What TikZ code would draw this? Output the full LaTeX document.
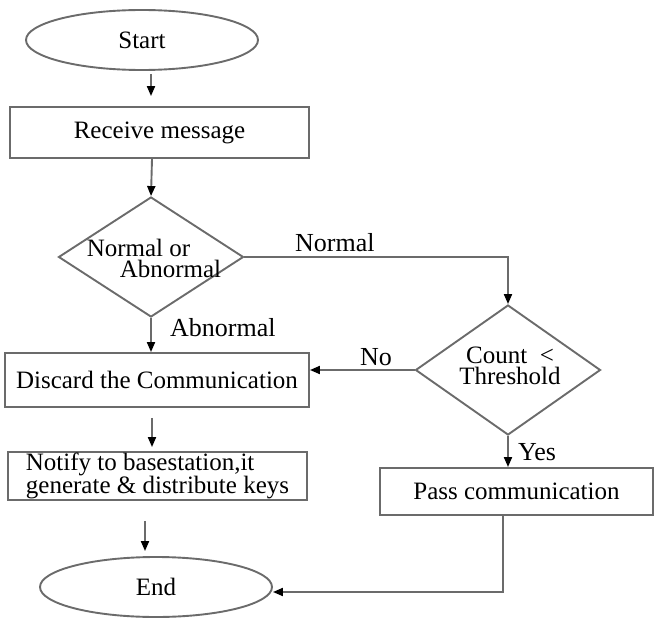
\documentclass[tikz,border=0pt]{standalone}
\usepackage{fontspec}
\setmainfont{Liberation Serif}
\usetikzlibrary{shapes.geometric,arrows.meta}
\begin{document}
\begin{tikzpicture}[x=1pt,y=-1pt,
  ln/.style={draw=black!58, line width=1.9pt},
  arr/.style={ln, -{Triangle[length=10pt,width=8pt,color=black]}},
  txt/.style={font=\fontsize{25}{21}\selectfont, text=black},
  lbl/.style={font=\fontsize{26}{24}\selectfont, text=black, inner sep=0pt},
  boxn/.style={rectangle, ln, txt, inner sep=0pt},
  ovl/.style={ellipse, ln, txt, inner sep=0pt, minimum width=232pt, minimum height=60pt},
  dec/.style={diamond, ln, inner sep=0pt, minimum width=185pt}
]
\useasboundingbox (0,0) rectangle (656,618);
% nodes
\node[ovl] (start) at (142,40) {Start};
\node[boxn, minimum width=299pt, minimum height=51pt] (rec) at (159.5,132.5) {Receive message};
\node[dec, minimum height=120pt] (d1) at (151,257) {};
\node[txt, align=left, inner sep=0pt] (d1t) at (154,258) {Normal or\\\hspace*{33pt}Abnormal};
\node[boxn, minimum width=304pt, minimum height=54pt] (dis) at (157,380) {Discard the Communication};
\node[boxn, minimum width=299pt, minimum height=48pt, align=left] (not) at (157.5,476) {Notify to basestation,it\\generate \& distribute keys};
\node[ovl] (end) at (156,587) {End};
\node[dec, minimum height=130pt] (d2) at (508,370) {};
\node[txt, align=center, inner sep=0pt] (d2t) at (510,366) {Count\ \ <\\Threshold};
\node[boxn, minimum width=273pt, minimum height=47pt] (pass) at (516.5,491.5) {Pass communication};
% helper coordinates
\coordinate (xa) at (151,0);
\coordinate (xb) at (152,0);
\coordinate (xc) at (145,0);
\coordinate (xp) at (503,0);
% connectors
\draw[arr, shorten <=3pt, shorten >=10pt] (start.south -| xa) -- (rec.north -| xa);
\draw[arr] (rec.south -| xb) -- (d1.north);
\draw[arr] (d1.south) -- (dis.north -| d1.south);
\draw[arr] (d1.east) -| (d2.north);
\draw[arr] (d2.west) -- (dis.east |- d2.west);
\draw[arr, shorten <=10pt, shorten >=4pt] (dis.south -| xb) -- (not.north -| xb);
\draw[arr, shorten <=20pt, shorten >=5pt] (not.south -| xc) -- (end.north -| xc);
\draw[arr] (d2.south) -- (pass.north -| d2.south);
\draw[arr] (pass.south -| xp) |- ([yshift=-5pt]end.east);
% labels
\node[lbl, anchor=west] (lab) at (170,328) {Abnormal};
\node[lbl, anchor=west] (lnorm) at (295,243) {Normal};
\node[lbl, anchor=west] (lno) at (360,357) {No};
\node[lbl, anchor=west] (lyes) at (518,452) {Yes};
\end{tikzpicture}
\end{document}
